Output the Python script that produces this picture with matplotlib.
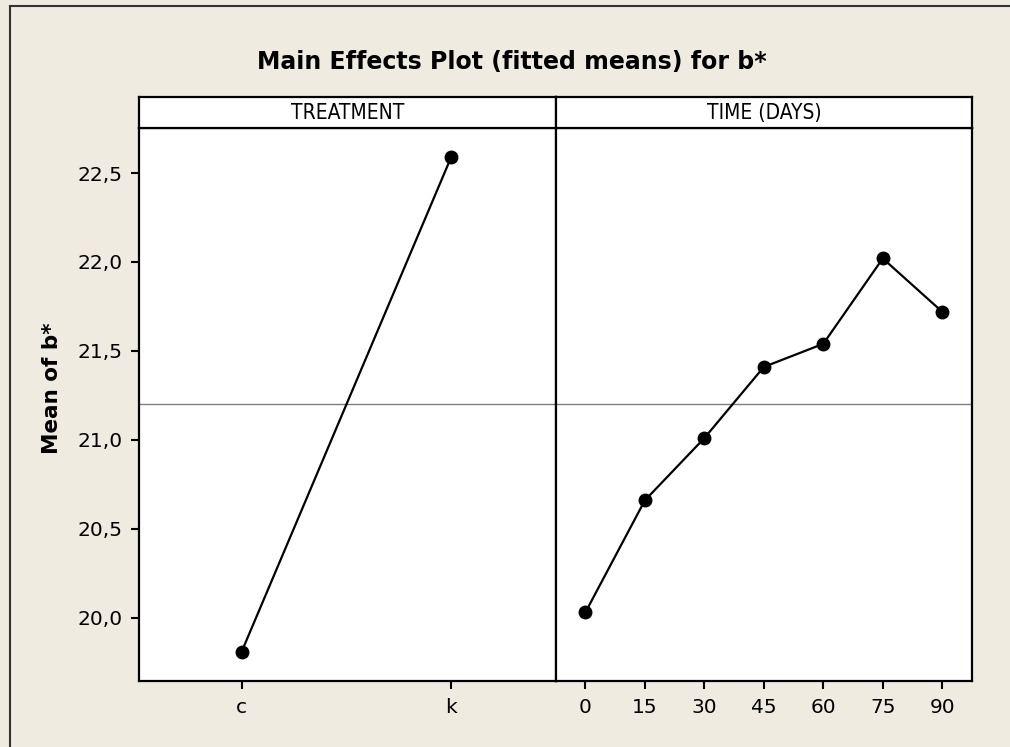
import matplotlib
matplotlib.use("Agg")
import matplotlib.pyplot as plt
from matplotlib.lines import Line2D

# Data
treatment_labels = ["c", "k"]
treatment_means = [19.81, 22.59]
time_days = [0, 15, 30, 45, 60, 75, 90]
time_means = [20.03, 20.66, 21.01, 21.41, 21.54, 22.02, 21.72]
grand_mean = 21.20
y_ticks = [20.0, 20.5, 21.0, 21.5, 22.0, 22.5]
y_tick_labels = ["20,0", "20,5", "21,0", "21,5", "22,0", "22,5"]
panel_titles = ["TREATMENT", "TIME (DAYS)"]

BG = "#EFEBE1"
FONT = ["DejaVu Sans"]
plt.rcParams["font.family"] = FONT

W, H = 1010, 747
fig = plt.figure(figsize=(W / 100, H / 100), dpi=100, facecolor=BG)

def fx(px):
    return px / W

def fy(py):
    return 1 - py / H

ax_bottom = fy(681)
ax_top = fy(128)
strip_top = fy(97)
ax1 = fig.add_axes([fx(139), ax_bottom, fx(556) - fx(139), ax_top - ax_bottom])
ax2 = fig.add_axes([fx(556), ax_bottom, fx(972) - fx(556), ax_top - ax_bottom], sharey=ax1)
s1 = fig.add_axes([fx(139), ax_top, fx(556) - fx(139), strip_top - ax_top])
s2 = fig.add_axes([fx(556), ax_top, fx(972) - fx(556), strip_top - ax_top])

line_kw = dict(color="black", lw=1.6, marker="o", markersize=9,
               markerfacecolor="black", markeredgecolor="black")

ax1.plot(range(len(treatment_labels)), treatment_means, **line_kw, zorder=3)
ax1.axhline(grand_mean, color="#7f7f7f", lw=1.0, zorder=1)
ax1.set_xlim(-0.49, 1.5)
ax1.set_xticks(range(len(treatment_labels)))
ax1.set_xticklabels(treatment_labels)

ax2.plot(time_days, time_means, **line_kw, zorder=3)
ax2.axhline(grand_mean, color="#7f7f7f", lw=1.0, zorder=1)
ax2.set_xlim(-7.4, 97.5)
ax2.set_xticks(time_days)
ax2.set_xticklabels([str(t) for t in time_days])

ax1.set_ylim(19.645, 22.753)
ax1.set_yticks(y_ticks)
ax1.set_yticklabels(y_tick_labels)

for ax in (ax1, ax2):
    ax.set_facecolor("white")
    for sp in ax.spines.values():
        sp.set_linewidth(1.6)
        sp.set_color("black")
    ax.tick_params(axis="both", direction="out", length=6, width=1.5,
                   labelsize=14.5, colors="black", pad=6)
ax2.tick_params(axis="y", left=False, labelleft=False)

for s, t in zip((s1, s2), panel_titles):
    s.set_facecolor("white")
    s.set_xticks([])
    s.set_yticks([])
    for sp in s.spines.values():
        sp.set_linewidth(1.6)
        sp.set_color("black")
    s.text(0.5, 0.47, t, ha="center", va="center", fontsize=15,
           transform=s.transAxes, fontstretch="condensed")

fig.text(fx(512), fy(62), "Main Effects Plot (fitted means) for b*",
         ha="center", va="center", fontsize=17, fontweight="bold")
fig.text(fx(52), fy(388), "Mean of b*", ha="center", va="center",
         rotation=90, fontsize=15.5, fontweight="bold")

# Outer frame (left and top edges visible)
fig.add_artist(Line2D([fx(10), fx(10)], [0, fy(6)], transform=fig.transFigure,
                      color="#333333", lw=1.5))
fig.add_artist(Line2D([fx(10), 1], [fy(6), fy(6)], transform=fig.transFigure,
                      color="#333333", lw=1.5))

fig.savefig("out.png", dpi=100, facecolor=BG)
